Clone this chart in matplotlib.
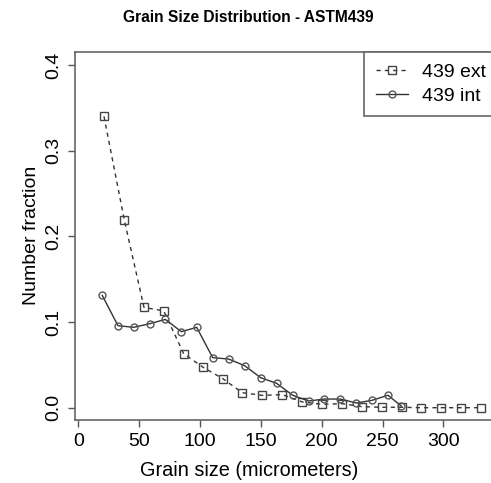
import matplotlib.pyplot as plt

plt.rcParams["font.family"] = ["Liberation Sans", "DejaVu Sans"]

ext_size = [21.1, 37.8, 54.0, 70.2, 86.6, 102.7, 118.6, 134.8, 151.2, 167.7,
            184.1, 200.5, 216.9, 233.1, 249.3, 265.7, 281.9, 298.3, 314.7, 330.9]
ext_frac = [0.340, 0.219, 0.117, 0.113, 0.063, 0.047, 0.034, 0.0175, 0.0144, 0.0152,
            0.0067, 0.004, 0.0047, 0.0012, 0.0005, 0.0005, 0.0, 0.0, 0.0, 0.0]

int_size = [19.7, 32.6, 45.5, 58.6, 71.5, 84.7, 97.3, 110.4, 123.6, 136.7,
            149.9, 163.0, 176.2, 189.3, 202.1, 215.3, 228.4, 241.3, 254.5, 265.4]
int_frac = [0.131, 0.0957, 0.0938, 0.098, 0.103, 0.0887, 0.0938, 0.0584, 0.0568, 0.049,
            0.035, 0.0284, 0.0145, 0.0078, 0.0101, 0.0101, 0.0055, 0.0086, 0.0145, 0.002]

xticks = [0, 50, 100, 150, 200, 250, 300]
yticks = [0.0, 0.1, 0.2, 0.3, 0.4]

W, H = 491, 483
fig = plt.figure(figsize=(W / 100, H / 100), dpi=100)
# right edge of the box runs past the picture, as in the cropped original
ax = fig.add_axes([75 / W, (H - 420) / H, (505 - 75) / W, (420 - 52) / H])

line_col = "#333333"
ax.plot(ext_size, ext_frac, linestyle=(0, (3, 3)), color=line_col, lw=1.0,
        marker="s", markersize=6, markerfacecolor="none", markeredgecolor="#444444",
        markeredgewidth=1.0, label="439 ext")
ax.plot(int_size, int_frac, linestyle="-", color=line_col, lw=1.0,
        marker="o", markersize=5, markerfacecolor="none", markeredgecolor="#555555",
        markeredgewidth=1.0, label="439 int")

ax.set_xlim((75 - 78.3) / 1.217, (505 - 78.3) / 1.217)
ax.set_ylim((407.7 - 420) / 857, (407.7 - 52) / 857)
ax.set_xticks(xticks)
ax.set_yticks(yticks)
ax.set_xticklabels([str(t) for t in xticks])
ax.set_yticklabels([f"{t:.1f}" for t in yticks], rotation=90, va="center")

for s in ax.spines.values():
    s.set_color("#666666")
    s.set_linewidth(1.2)
ax.tick_params(direction="out", length=5, width=1, color="#555555",
               labelsize=14, pad=4)

fig.text(248 / W, 1 - 18 / H, "Grain Size Distribution - ASTM439",
         ha="center", va="center", fontsize=11.2, fontweight="bold")
fig.text(249 / W, 1 - 470 / H, "Grain size (micrometers)",
         ha="center", va="center", fontsize=14.3)
fig.text(31 / W, 1 - 235 / H, "Number fraction",
         ha="center", va="center", rotation=90, fontsize=14)

leg = ax.legend(loc="upper left", bbox_to_anchor=(364 / W, 1 - 52 / H),
                bbox_transform=fig.transFigure, fontsize=14, frameon=True,
                fancybox=False, framealpha=1, edgecolor="#666666",
                handlelength=1.65, borderpad=0.6, labelspacing=0.3,
                handletextpad=0.75, borderaxespad=0)
leg.get_frame().set_linewidth(1.2)

fig.savefig("out.png", dpi=100)
